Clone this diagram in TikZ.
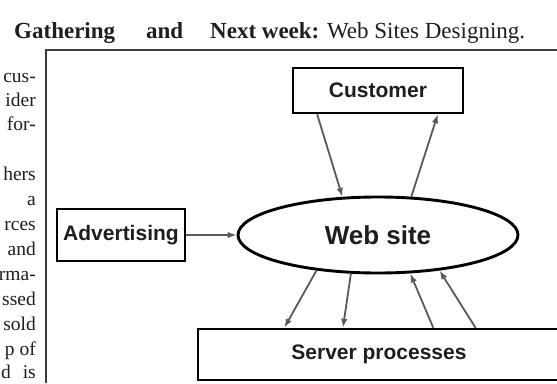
\documentclass[tikz,border=0pt]{standalone}
\usepackage{fontspec}
\setmainfont{Liberation Serif}
\newfontfamily\labelfont{Liberation Sans}
\usetikzlibrary{shapes.geometric,arrows.meta,calc}
\definecolor{arrowgray}{HTML}{5A5A5A}
\definecolor{framegray}{HTML}{3A3A3A}
\definecolor{inkblack}{HTML}{1E1E1E}

\begin{document}
\begin{tikzpicture}[x=1pt,y=-1pt,
  box/.style={draw=black,line width=2.4pt,rectangle,inner sep=0pt,
    text=inkblack,font=\labelfont\bfseries\fontsize{21}{24}\selectfont},
  flow/.style={draw=arrowgray,line width=1.8pt,
    -{Latex[length=9pt,width=6.5pt]}},
  colline/.style={anchor=base east,inner sep=0pt,text=inkblack,
    font=\fontsize{19.5}{23}\selectfont},
  head/.style={anchor=base west,inner sep=0pt,text=inkblack,
    font=\fontsize{23}{27}\selectfont}]

\useasboundingbox (0,0) rectangle (557,383);
\fill[white] (0,0) rectangle (557,383);

% running head
\node[head] (h1) at (14,38) {\bfseries Gathering};
\node[head] (h2) at (146,38) {\bfseries and};
\node[head] (h3) at (210,38) {\textbf{Next week:} Web Sites Designing.};

% ends of the neighbouring text column
\node[colline] (c1)  at (36,82)  {cus-};
\node[colline] (c2)  at (36,106) {ider};
\node[colline] (c3)  at (36,130) {for-};
\node[colline] (c4)  at (36,180) {hers};
\node[colline] (c5)  at (36,205) {a};
\node[colline] (c6)  at (36,230) {rces};
\node[colline] (c7)  at (36,255) {and};
\node[colline] (c8)  at (36,280) {rma-};
\node[colline] (c9)  at (36,305) {ssed};
\node[colline] (c10) at (36,330) {sold};
\node[colline] (c11) at (36,355) {p of};
\node[colline] (c12) at (36,378) {d\hspace{12pt}is};

% figure frame
\draw[framegray,line width=1.3pt] (46,383) -- (46,50) -- (557,50);

% blocks
\node[box,minimum width=170pt,minimum height=45pt] (cust) at (378,90.5) {Customer};
\node[box,minimum width=128pt,minimum height=52pt] (adv) at (121,235) {Advertising};
\node[draw=black,ellipse,line width=2.9pt,minimum width=280pt,minimum height=76pt,
  inner sep=0pt,text=inkblack,font=\labelfont\bfseries\fontsize{26}{30}\selectfont]
  (web) at (378,235) {Web site};
\node[box,minimum width=362pt,minimum height=51pt] (srv) at (379,354.5) {Server processes};

% flows
\draw[flow] ($(cust.south west)!0.147!(cust.south east)$) -- (web.133.5);
\draw[flow] (web.49) -- ($(cust.south west)!0.847!(cust.south east)$);
\draw[flow] (adv.east) -- (web.west);
\draw[flow] (web.210) -- ($(srv.north west)!0.240!(srv.north east)$);
\draw[flow] (web.235.6) -- ($(srv.north west)!0.401!(srv.north east)$);
\draw[flow] ($(srv.north west)!0.649!(srv.north east)$) -- (web.310);
\draw[flow] ($(srv.north west)!0.765!(srv.north east)$) -- (web.330);
\end{tikzpicture}
\end{document}
